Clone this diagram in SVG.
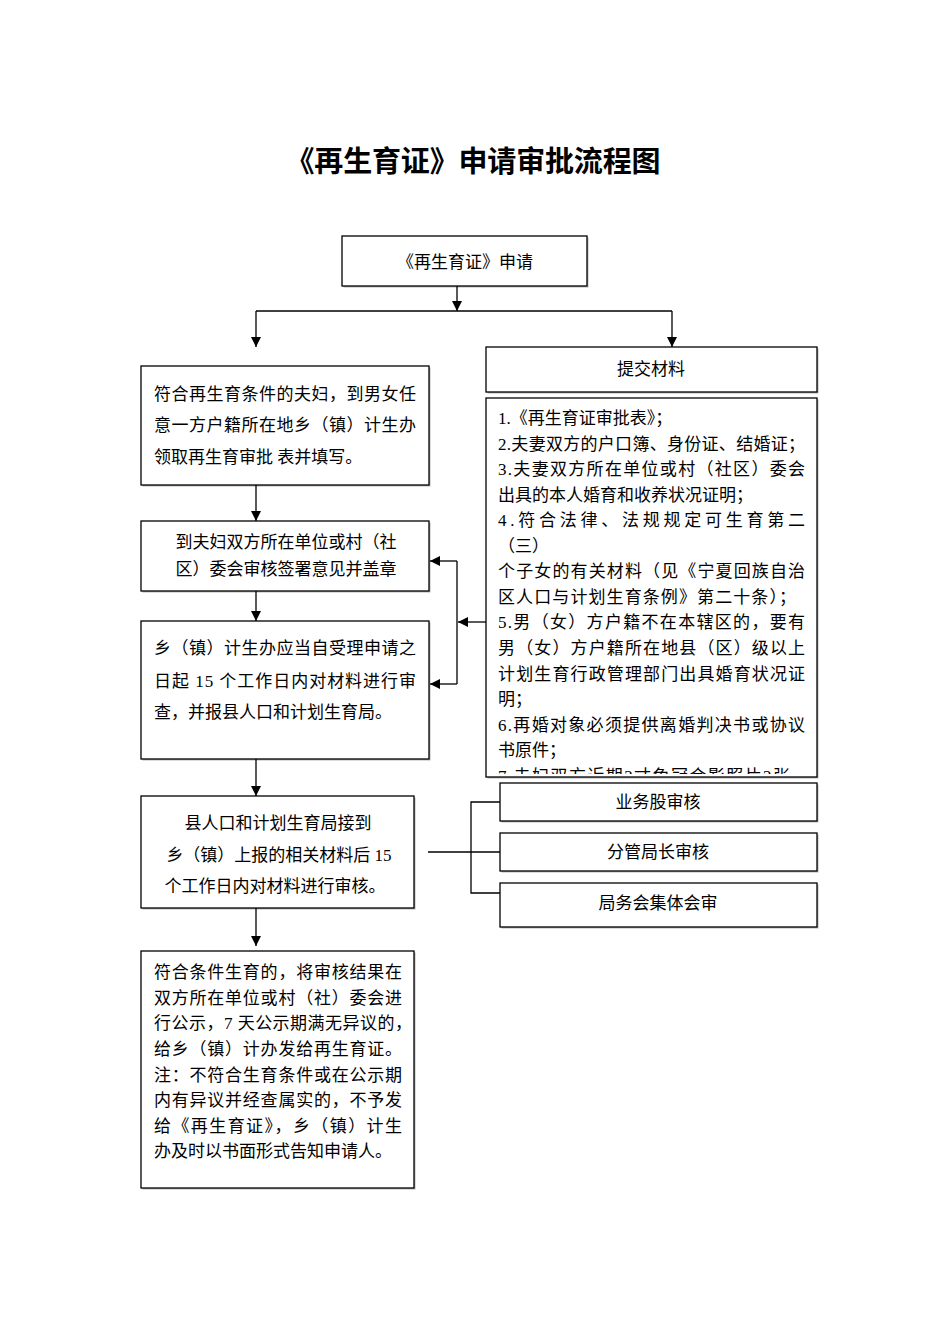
<svg xmlns="http://www.w3.org/2000/svg" width="950" height="1344" viewBox="0 0 950 1344">
<style>
.bg{fill:#ffffff}
.box{fill:#ffffff;stroke:#000;stroke-width:1.3}
.sh{fill:#b5b5b5}
.t{font-family:"Liberation Serif","Noto Sans CJK SC",serif;font-size:17px;fill:#000}
.c{text-anchor:middle}
.title{font-family:"Liberation Serif","Noto Sans CJK SC",serif;font-size:29px;font-weight:bold;fill:#000;text-anchor:middle}
.ln{fill:none;stroke:#000;stroke-width:1.3}
</style>
<defs>
<marker id="ah" viewBox="0 0 10 10" refX="10" refY="5" markerWidth="10" markerHeight="10" markerUnits="userSpaceOnUse" orient="auto">
<path d="M0,0 L10,5 L0,10 z" fill="#000"/>
</marker>
<clipPath id="matclip"><rect x="486" y="398" width="331" height="376"/></clipPath>
</defs>
<rect class="bg" x="0" y="0" width="950" height="1344"/>
<text class="title" x="473" y="172" textLength="375" lengthAdjust="spacing">《再生育证》申请审批流程图</text>

<g id="n_apply">
<rect class="sh" x="343.5" y="237.5" width="245" height="50"/>
<rect class="box" x="342" y="236" width="245" height="50"/>
<text class="t c" x="465" y="268">《再生育证》申请</text>
</g>

<g id="n_collect">
<rect class="sh" x="142.5" y="367.5" width="288" height="119"/>
<rect class="box" x="141" y="366" width="288" height="119"/>
<text class="t" x="154" y="400" textLength="262" lengthAdjust="spacing">符合再生育条件的夫妇，到男女任</text>
<text class="t" x="154" y="431" textLength="262" lengthAdjust="spacing">意一方户籍所在地乡（镇）计生办</text>
<text class="t" x="154" y="463">领取再生育审批 表并填写。</text>
</g>

<g id="n_unit">
<rect class="sh" x="142.5" y="522.5" width="288" height="70"/>
<rect class="box" x="141" y="521" width="288" height="70"/>
<text class="t c" x="286" y="548">到夫妇双方所在单位或村（社</text>
<text class="t c" x="286" y="575">区）委会审核签署意见并盖章</text>
</g>

<g id="n_town">
<rect class="sh" x="142.5" y="622.5" width="288" height="138"/>
<rect class="box" x="141" y="621" width="288" height="138"/>
<text class="t" x="154" y="654" textLength="262" lengthAdjust="spacing">乡（镇）计生办应当自受理申请之</text>
<text class="t" x="154" y="687" textLength="262" lengthAdjust="spacing">日起 15 个工作日内对材料进行审</text>
<text class="t" x="154" y="718">查，并报县人口和计划生育局。</text>
</g>

<g id="n_county">
<rect class="sh" x="142.5" y="797.5" width="273" height="112"/>
<rect class="box" x="141" y="796" width="273" height="112"/>
<text class="t c" x="278" y="829">县人口和计划生育局接到</text>
<text class="t c" x="279" y="861">乡（镇）上报的相关材料后 15</text>
<text class="t c" x="275" y="892">个工作日内对材料进行审核。</text>
</g>

<g id="n_result">
<rect class="sh" x="142.5" y="952.5" width="273" height="237"/>
<rect class="box" x="141" y="951" width="273" height="237"/>
<text class="t" x="154" y="978" textLength="248" lengthAdjust="spacing">符合条件生育的，将审核结果在</text>
<text class="t" x="154" y="1004" textLength="248" lengthAdjust="spacing">双方所在单位或村（社）委会进</text>
<text class="t" x="154" y="1029" textLength="258" lengthAdjust="spacing">行公示，7 天公示期满无异议的，</text>
<text class="t" x="154" y="1055" textLength="248" lengthAdjust="spacing">给乡（镇）计办发给再生育证。</text>
<text class="t" x="154" y="1081" textLength="248" lengthAdjust="spacing">注：不符合生育条件或在公示期</text>
<text class="t" x="154" y="1106" textLength="248" lengthAdjust="spacing">内有异议并经查属实的，不予发</text>
<text class="t" x="154" y="1132" textLength="248" lengthAdjust="spacing">给《再生育证》，乡（镇）计生</text>
<text class="t" x="154" y="1157">办及时以书面形式告知申请人。</text>
</g>

<g id="n_submit">
<rect class="sh" x="487.5" y="348.5" width="331" height="45"/>
<rect class="box" x="486" y="347" width="331" height="45"/>
<text class="t c" x="651" y="375">提交材料</text>
</g>

<g id="n_materials">
<rect class="sh" x="487.5" y="399.5" width="331" height="379"/>
<rect class="box" x="486" y="398" width="331" height="379"/>
<g clip-path="url(#matclip)">
<text class="t" x="498" y="424">1.《再生育证审批表》；</text>
<text class="t" x="498" y="450" textLength="307" lengthAdjust="spacing">2.夫妻双方的户口簿、身份证、结婚证；</text>
<text class="t" x="498" y="475" textLength="307" lengthAdjust="spacing">3.夫妻双方所在单位或村（社区）委会</text>
<text class="t" x="498" y="501">出具的本人婚育和收养状况证明；</text>
<text class="t" x="498" y="526" textLength="307" lengthAdjust="spacing">4.符合法律、法规规定可生育第二</text>
<text class="t" x="498" y="552">（三）</text>
<text class="t" x="498" y="577" textLength="307" lengthAdjust="spacing">个子女的有关材料（见《宁夏回族自治</text>
<text class="t" x="498" y="603" textLength="298" lengthAdjust="spacing">区人口与计划生育条例》第二十条）；</text>
<text class="t" x="498" y="628" textLength="307" lengthAdjust="spacing">5.男（女）方户籍不在本辖区的，要有</text>
<text class="t" x="498" y="654" textLength="307" lengthAdjust="spacing">男（女）方户籍所在地县（区）级以上</text>
<text class="t" x="498" y="680" textLength="307" lengthAdjust="spacing">计划生育行政管理部门出具婚育状况证</text>
<text class="t" x="498" y="705">明；</text>
<text class="t" x="498" y="731" textLength="307" lengthAdjust="spacing">6.再婚对象必须提供离婚判决书或协议</text>
<text class="t" x="498" y="756">书原件；</text>
<text class="t" x="498" y="782" textLength="292" lengthAdjust="spacing">7.夫妇双方近期2寸免冠合影照片2张</text>
</g>
</g>

<g id="n_dept">
<rect class="sh" x="501.5" y="784.5" width="317" height="38"/>
<rect class="box" x="500" y="783" width="317" height="38"/>
<text class="t c" x="658" y="808">业务股审核</text>
</g>

<g id="n_deputy">
<rect class="sh" x="501.5" y="834.5" width="317" height="38"/>
<rect class="box" x="500" y="833" width="317" height="38"/>
<text class="t c" x="658" y="858">分管局长审核</text>
</g>

<g id="n_board">
<rect class="sh" x="501.5" y="884.5" width="317" height="44"/>
<rect class="box" x="500" y="883" width="317" height="44"/>
<text class="t c" x="658" y="909">局务会集体会审</text>
</g>

<g id="connectors">
<line class="ln" x1="457" y1="286" x2="457" y2="311" marker-end="url(#ah)"/>
<polyline class="ln" points="256,311 672,311"/>
<line class="ln" x1="256" y1="311" x2="256" y2="347" marker-end="url(#ah)"/>
<line class="ln" x1="672" y1="311" x2="672" y2="347" marker-end="url(#ah)"/>
<line class="ln" x1="256" y1="485" x2="256" y2="521" marker-end="url(#ah)"/>
<line class="ln" x1="256" y1="591" x2="256" y2="621" marker-end="url(#ah)"/>
<line class="ln" x1="256" y1="759" x2="256" y2="796" marker-end="url(#ah)"/>
<line class="ln" x1="256" y1="908" x2="256" y2="946" marker-end="url(#ah)"/>
<line class="ln" x1="486" y1="622" x2="458" y2="622" marker-end="url(#ah)"/>
<polyline class="ln" points="457,561 457,684"/>
<line class="ln" x1="457" y1="561" x2="430" y2="561" marker-end="url(#ah)"/>
<line class="ln" x1="457" y1="684" x2="430" y2="684" marker-end="url(#ah)"/>
<line class="ln" x1="428" y1="852" x2="500" y2="852"/>
<polyline class="ln" points="500,802 471,802 471,893 500,893"/>
</g>
</svg>
